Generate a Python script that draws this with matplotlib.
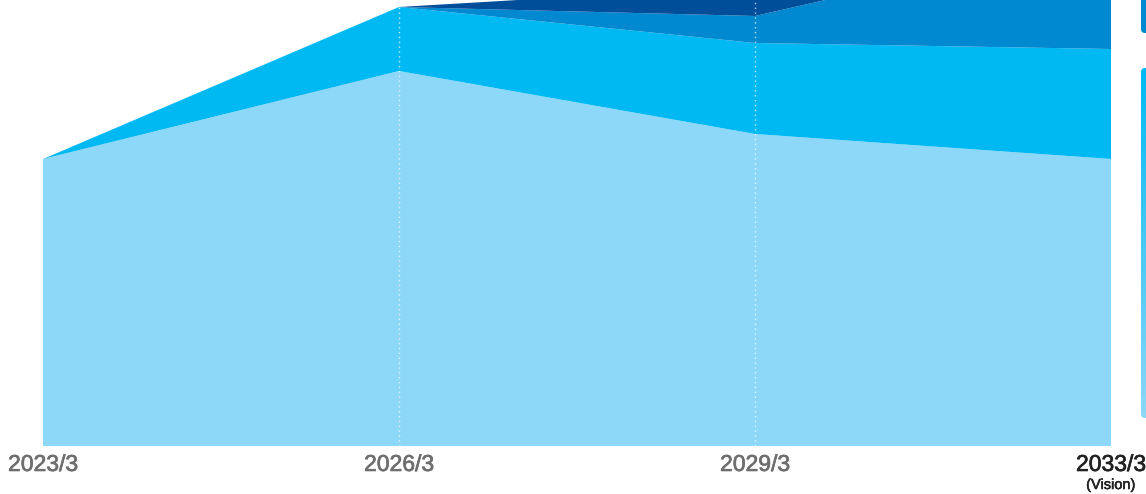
import matplotlib
matplotlib.use("Agg")
import matplotlib.pyplot as plt
import matplotlib.patheffects as pe
import numpy as np
from matplotlib.patches import FancyBboxPatch

categories = ["2023/3", "2026/3", "2029/3", "2033/3"]
layer1 = [287, 375, 312, 287]   # light blue
layer2 = [0, 64, 91, 110]       # cyan
layer3 = [0, 0, 27, 114]        # medium blue
layer4 = [0, 0, 30, 30]         # dark blue
colors = ["#8DD8F8", "#00B9F2", "#0088D0", "#004D99"]

W, H = 1146, 494
fig = plt.figure(figsize=(W / 100, H / 100), dpi=100)
ax = fig.add_axes([43 / W, (H - 446) / H, (1111 - 43) / W, 446 / H])

x = np.arange(len(categories))
ax.stackplot(x, layer1, layer2, layer3, layer4, colors=colors, linewidth=0)
total = np.array(layer1) + np.array(layer2) + np.array(layer3) + np.array(layer4)
for xi in [1, 2]:
    ax.vlines(xi, 0, total[xi], colors="white", linestyles=(0, (1, 2.5)), linewidth=1, alpha=0.75)

ax.set_xlim(0, 3)
ax.set_ylim(0, 446)
ax.set_yticks([])
for s in ax.spines.values():
    s.set_visible(False)
ax.set_xticks(x)
ax.set_xticklabels(categories, fontsize=16.5, family="Liberation Sans")
ax.tick_params(axis="x", length=0, pad=5)
for i, lbl in enumerate(ax.get_xticklabels()):
    col = "#222222" if i == 3 else "#6e6e6e"
    lbl.set_color(col)
    lbl.set_path_effects([pe.withStroke(linewidth=0.5, foreground=col)])
ax.text(3, -39, "(Vision)", fontsize=10.5, family="Liberation Sans", color="#222222",
        ha="center", va="center", clip_on=False,
        path_effects=[pe.withStroke(linewidth=0.4, foreground="#222222")])

# right side partial panels
ov = fig.add_axes([0, 0, 1, 1])
ov.axis("off")
ov.patch.set_alpha(0)
top_box = FancyBboxPatch((1141, -20), 30, 53, boxstyle="round,pad=0,rounding_size=4",
                         facecolor="#0088D0", edgecolor="none")
ov.add_patch(top_box)
low_box = FancyBboxPatch((1141, 68), 30, 350, boxstyle="round,pad=0,rounding_size=4",
                         facecolor="none", edgecolor="none")
ov.add_patch(low_box)
c1 = np.array(matplotlib.colors.to_rgb("#00B9F2"))
c2 = np.array(matplotlib.colors.to_rgb("#8DD8F8"))
t = np.linspace(0, 1, 256)[:, None]
grad = (c1[None, :] * (1 - t) + c2[None, :] * t)[:, None, :]
im = ov.imshow(grad, extent=[1141, 1171, 418, 68], aspect="auto", interpolation="bilinear")
im.set_clip_path(low_box)
ov.set_xlim(0, W)
ov.set_ylim(H, 0)

fig.savefig("out.png", dpi=100)
